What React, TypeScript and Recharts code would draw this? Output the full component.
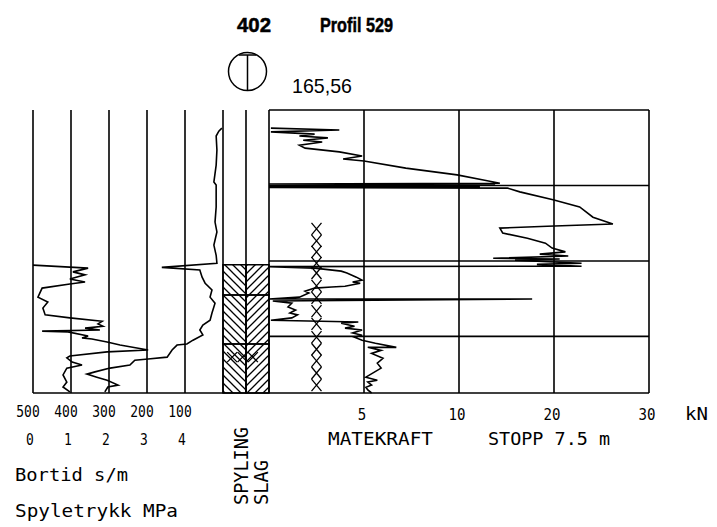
import React from "react";
import { ScatterChart, Scatter, XAxis, YAxis, ReferenceLine, ReferenceArea } from "recharts";

const W = 717;
const H = 527;
const TOP = 110; // 0 m
const BOT = 393; // 7.5 m
const DEPTH_MAX = 7.5;
const MONO = "'DejaVu Sans Mono', monospace";
const SANS = "'Liberation Sans', Arial, sans-serif";
const INK = "#000";

// Matekraft (kN) mot dybde (m)
const kraftDepth = [
  0.48, 0.53, 0.58, 0.64, 0.69, 0.74, 0.8, 0.85, 0.93, 1.01, 1.11, 1.22, 1.3, 1.35, 1.54, 1.72,
  1.86, 1.94, 1.96, 1.98, 2.01, 2.03, 2.05, 2.07, 2.17, 2.38, 2.57, 2.84, 3.02, 3.08, 3.13, 3.26,
  3.4, 3.53, 3.66, 3.76, 3.82, 3.87, 3.93, 3.95, 3.98, 4.06, 4.09, 4.14, 4.15, 4.19, 4.27, 4.32,
  4.43, 4.51, 4.56, 4.59, 4.67, 4.69, 4.72, 4.8, 4.85, 4.96, 5.01, 5.01, 5.06, 5.12, 5.22, 5.3,
  5.38, 5.43, 5.51, 5.57, 5.62, 5.65, 5.73, 5.78, 5.83, 5.91, 5.97, 6.02, 6.1, 6.18, 6.29, 6.29,
  6.37, 6.45, 6.58, 6.71, 6.84, 7.08, 7.16, 7.21, 7.29, 7.35, 7.42, 7.5,
];
const kraftKN = [
  0.1, 3.7, 0.1, 2.4, 1.6, 3.1, 1.8, 2.8, 1.6, 1.9, 3.7, 4.9, 3.9, 5.0, 7.2, 9.9,
  12.7, 14.3, 0, 13.8, 0, 12.2, 0, 15.1, 16.4, 19.9, 22.7, 24.1, 26.2, 19.3, 14.3, 14.6,
  17.2, 19.1, 19.8, 21.2, 18.5, 21.5, 13.6, 20.6, 15.9, 22.9, 18.2, 22.9, 0, 2.4, 3.8, 4.1,
  4.6, 4.9, 4.4, 4.8, 4.0, 3.3, 2.4, 1.9, 2.1, 1.6, 0, 17.7, 0.2, 1.2, 1.0, 1.4,
  1.1, 1.5, 1.2, 0.1, 4.7, 3.8, 4.5, 4.0, 4.9, 4.4, 4.9, 4.5, 4.9, 5.6, 6.7, 5.2,
  5.9, 5.4, 6.0, 5.7, 5.9, 5.1, 5.7, 5.2, 5.4, 5.1, 5.2, 5.4,
];

// Bortid (s/m)
const tidDepth = [
  0.48, 0.56, 0.69, 1.06, 1.46, 1.91, 1.99, 2.57, 2.97, 3.23, 3.58, 3.85, 4.06, 4.17, 4.24, 4.43,
  4.59, 4.77, 4.96, 5.12, 5.38, 5.57, 5.7, 5.83, 5.96, 6.1, 6.2, 6.23, 6.36, 6.55, 6.6, 6.63,
  6.76, 6.84, 6.94, 7.0, 7.08, 7.16, 7.29, 7.34, 7.47,
];
const tidSm = [
  3, 11, 18, 16, 18, 24, 18, 18, 21, 16, 24, 18, 16, 161, 61, 55,
  47, 29, 34, 21, 29, 34, 53, 61, 53, 79, 95, 121, 134, 147, 197, 232,
  245, 297, 337, 358, 332, 305, 276, 303, 311,
];

// Spyletrykk (MPa)
const trykkDepth = [
  4.11, 4.19, 4.29, 4.37, 4.48, 4.56, 4.61, 4.72, 4.96, 5.09, 5.25, 5.43, 5.51, 5.6, 5.67, 5.73,
  5.78, 5.83, 5.86, 5.88, 5.99, 6.04, 6.07, 6.15, 6.23, 6.36, 6.41, 6.52, 6.57, 6.68, 6.76, 6.84,
  7.02, 7.21, 7.34, 7.47,
];
const trykkMPa = [
  0, 1.45, 1.05, 1.37, 0.97, 1.37, 0.97, 0.24, 0.13, 0.39, 0.26, 0.32, 0.97, 1.82, 1.71, 1.84,
  1.37, 1.76, 0.24, 0.92, 1.45, 1.29, 1.55, 1.95, 2.29, 3.03, 1.95, 0.97, 0.89, 1.03, 1.29, 0.89,
  0.79, 0.89, 0.79, 0.97,
];

// Kryss i matekraftfeltet
const kryssDepth = [3.15, 3.47, 3.76, 4.06, 4.32, 4.66, 4.98, 5.33, 5.67, 6.02, 6.34, 6.65, 6.97, 7.29];
const kryssKN = 2.5;

// Spyling / slag, fra-til (m)
const spylingFra = [4.1, 4.9, 6.2];
const spylingTil = [4.9, 6.2, 7.5];
const slagFra = [4.1, 4.9, 6.2];
const slagTil = [4.9, 6.2, 7.5];
const steinDepth = 6.55;
const steinKol = [0.4, 0.85, 1.3];

const tidTicks = [500, 400, 300, 200, 100];
const trykkTicks = [0, 1, 2, 3, 4];
const kraftTicks = [5, 10, 20, 30];
const dybdeGrid = [2, 4, 6];

// kraftaksen er 0-10 kN lineært, deretter halv skala opp til 30 kN
const kraftPos = (kn: number) => (kn <= 10 ? kn : 10 + (kn - 10) / 2);
const posKraft = (p: number) => (p <= 10 ? p : 10 + (p - 10) * 2);

const kraftData = kraftDepth.map((d, i) => ({ dybde: d, kraft: kraftPos(kraftKN[i]) }));
const tidData = tidDepth.map((d, i) => ({ dybde: d, tid: tidSm[i] }));
const trykkData = trykkDepth.map((d, i) => ({ dybde: d, trykk: trykkMPa[i] }));
const kryssData = kryssDepth.map((d) => ({ dybde: d, kraft: kraftPos(kryssKN) }));
const steinData = steinKol.map((k) => ({ dybde: steinDepth, kol: k }));

const abs: React.CSSProperties = { position: "absolute", left: 0, top: 0 };
const noDot = () => <g />;
const curve = { stroke: INK, strokeWidth: 1.6, fill: "none" };
const grid = { stroke: INK, strokeWidth: 1.6 };

const Tick = (p: any) => {
  const s = p.fmt ? p.fmt(p.payload.value) : String(p.payload.value);
  return (
    <text
      x={p.x + (p.offX || 0)}
      y={p.y + (p.offY || 0)}
      textAnchor="middle"
      fontFamily={MONO}
      fontSize={16.5}
      fill={INK}
      textLength={s.length * (p.adv || 7.8)}
      lengthAdjust="spacingAndGlyphs"
    >
      {s}
    </text>
  );
};

const Kryss = (p: any) => {
  const w = p.w || 5;
  const h = p.h || 6;
  return (
    <path
      d={`M${p.cx - w},${p.cy - h}L${p.cx + w},${p.cy + h}M${p.cx + w},${p.cy - h}L${p.cx - w},${p.cy + h}`}
      stroke={INK}
      strokeWidth={1.3}
      fill="none"
    />
  );
};

const Txt = ({ x, y, w, size = 18, children }: any) => (
  <text x={x} y={y} fontFamily={MONO} fontSize={size} fill={INK} textLength={w} lengthAdjust="spacingAndGlyphs">
    {children}
  </text>
);

const VTxt = ({ x, y, w, children }: any) => (
  <text
    transform={`translate(${x},${y}) rotate(-90)`}
    fontFamily={MONO}
    fontSize={20}
    fill={INK}
    textLength={w}
    lengthAdjust="spacingAndGlyphs"
  >
    {children}
  </text>
);

export default function App() {
  return (
    <div style={{ ...abs, width: W, height: H, background: "#fff", overflow: "hidden" }}>
      <svg width={0} height={0} style={{ position: "absolute" }}>
        <defs>
          <pattern id="skraaV" width="8" height="8" patternUnits="userSpaceOnUse">
            <path d="M0,0L8,8M-2,6L2,10M6,-2L10,2" stroke={INK} strokeWidth={1.3} />
          </pattern>
          <pattern id="skraaH" width="8" height="8" patternUnits="userSpaceOnUse">
            <path d="M0,8L8,0M-2,2L2,-2M6,10L10,6" stroke={INK} strokeWidth={1.3} />
          </pattern>
        </defs>
      </svg>

      {/* bortid og spyletrykk */}
      <div style={abs}>
        <ScatterChart width={W} height={H} margin={{ top: TOP, left: 33, right: W - 223, bottom: H - BOT - 58 }}>
          <XAxis
            xAxisId="tid"
            dataKey="tid"
            type="number"
            domain={[0, 500]}
            reversed
            ticks={tidTicks}
            interval={0}
            axisLine={false}
            tickLine={false}
            height={30}
            tick={(p: any) => <Tick {...p} offX={-5} offY={16} />}
          />
          <XAxis
            xAxisId="trykk"
            dataKey="trykk"
            type="number"
            domain={[0, 5]}
            ticks={trykkTicks}
            interval={0}
            axisLine={false}
            tickLine={false}
            height={28}
            tick={(p: any) => <Tick {...p} offX={-3} offY={14} />}
          />
          <YAxis dataKey="dybde" type="number" domain={[0, DEPTH_MAX]} reversed hide />
          {trykkTicks.map((t) => (
            <ReferenceLine key={t} xAxisId="trykk" x={t} {...grid} />
          ))}
          <ReferenceLine xAxisId="trykk" y={DEPTH_MAX} {...grid} />
          <Scatter xAxisId="tid" data={tidData} fill={INK} line={curve} shape={noDot} isAnimationActive={false} />
          <Scatter xAxisId="trykk" data={trykkData} fill={INK} line={curve} shape={noDot} isAnimationActive={false} />
        </ScatterChart>
      </div>

      {/* spyling og slag */}
      <div style={abs}>
        <ScatterChart width={W} height={H} margin={{ top: TOP, left: 223, right: W - 269, bottom: H - BOT }}>
          <XAxis dataKey="kol" type="number" domain={[0, 2]} hide />
          <YAxis dataKey="dybde" type="number" domain={[0, DEPTH_MAX]} reversed hide />
          {spylingFra.map((f, i) => (
            <ReferenceArea key={"sp" + i} x1={0} x2={1} y1={f} y2={spylingTil[i]} fill="url(#skraaV)" fillOpacity={1} stroke={INK} strokeWidth={1.5} />
          ))}
          {slagFra.map((f, i) => (
            <ReferenceArea key={"sl" + i} x1={1} x2={2} y1={f} y2={slagTil[i]} fill="url(#skraaH)" fillOpacity={1} stroke={INK} strokeWidth={1.5} />
          ))}
          <ReferenceLine x={0} {...grid} />
          <ReferenceLine x={1} {...grid} />
          <ReferenceLine y={DEPTH_MAX} {...grid} />
          <Scatter data={steinData} fill={INK} shape={(p: any) => <Kryss {...p} w={5} h={5} />} isAnimationActive={false} />
        </ScatterChart>
      </div>

      {/* matekraft */}
      <div style={abs}>
        <ScatterChart width={W} height={H} margin={{ top: TOP, left: 269, right: W - 649, bottom: H - BOT - 30 }}>
          <XAxis
            dataKey="kraft"
            type="number"
            domain={[0, 20]}
            ticks={kraftTicks.map(kraftPos)}
            interval={0}
            axisLine={false}
            tickLine={false}
            height={30}
            tick={(p: any) => <Tick {...p} offX={-2} offY={19} adv={8.5} fmt={(v: number) => String(posKraft(v))} />}
          />
          <YAxis dataKey="dybde" type="number" domain={[0, DEPTH_MAX]} reversed hide />
          {[0, ...kraftTicks.map(kraftPos)].map((t) => (
            <ReferenceLine key={"v" + t} x={t} {...grid} />
          ))}
          {[0, ...dybdeGrid, DEPTH_MAX].map((d) => (
            <ReferenceLine key={"h" + d} y={d} {...grid} />
          ))}
          <Scatter data={kryssData} fill={INK} shape={(p: any) => <Kryss {...p} />} isAnimationActive={false} />
          <Scatter data={kraftData} fill={INK} line={curve} shape={noDot} isAnimationActive={false} />
        </ScatterChart>
      </div>

      {/* overskrift og tekster */}
      <svg width={W} height={H} style={{ ...abs, pointerEvents: "none" }}>
        <text x={237} y={32} fontFamily={SANS} fontWeight="bold" fontSize={20} fill={INK} stroke={INK} strokeWidth={0.5} textLength={34} lengthAdjust="spacingAndGlyphs">
          402
        </text>
        <text x={320} y={32} fontFamily={SANS} fontWeight="bold" fontSize={20} fill={INK} stroke={INK} strokeWidth={0.5} textLength={73} lengthAdjust="spacingAndGlyphs">
          Profil 529
        </text>
        <circle cx={247.5} cy={71.5} r={19} fill="none" stroke={INK} strokeWidth={1.5} />
        <path d="M239,55H256M247.5,55V90" stroke={INK} strokeWidth={1.5} fill="none" />
        <text x={292} y={93} fontFamily={SANS} fontSize={21} fill={INK} textLength={60} lengthAdjust="spacingAndGlyphs">
          165,56
        </text>
        <Txt x={685} y={420} w={23}>kN</Txt>
        <Txt x={328} y={445} w={105}>MATEKRAFT</Txt>
        <Txt x={488} y={445} w={122}>STOPP 7.5 m</Txt>
        <Txt x={15} y={481} w={113}>Bortid s/m</Txt>
        <Txt x={15} y={517} w={163}>Spyletrykk MPa</Txt>
        <VTxt x={248} y={505} w={78}>SPYLING</VTxt>
        <VTxt x={268} y={505} w={45}>SLAG</VTxt>
      </svg>
    </div>
  );
}
